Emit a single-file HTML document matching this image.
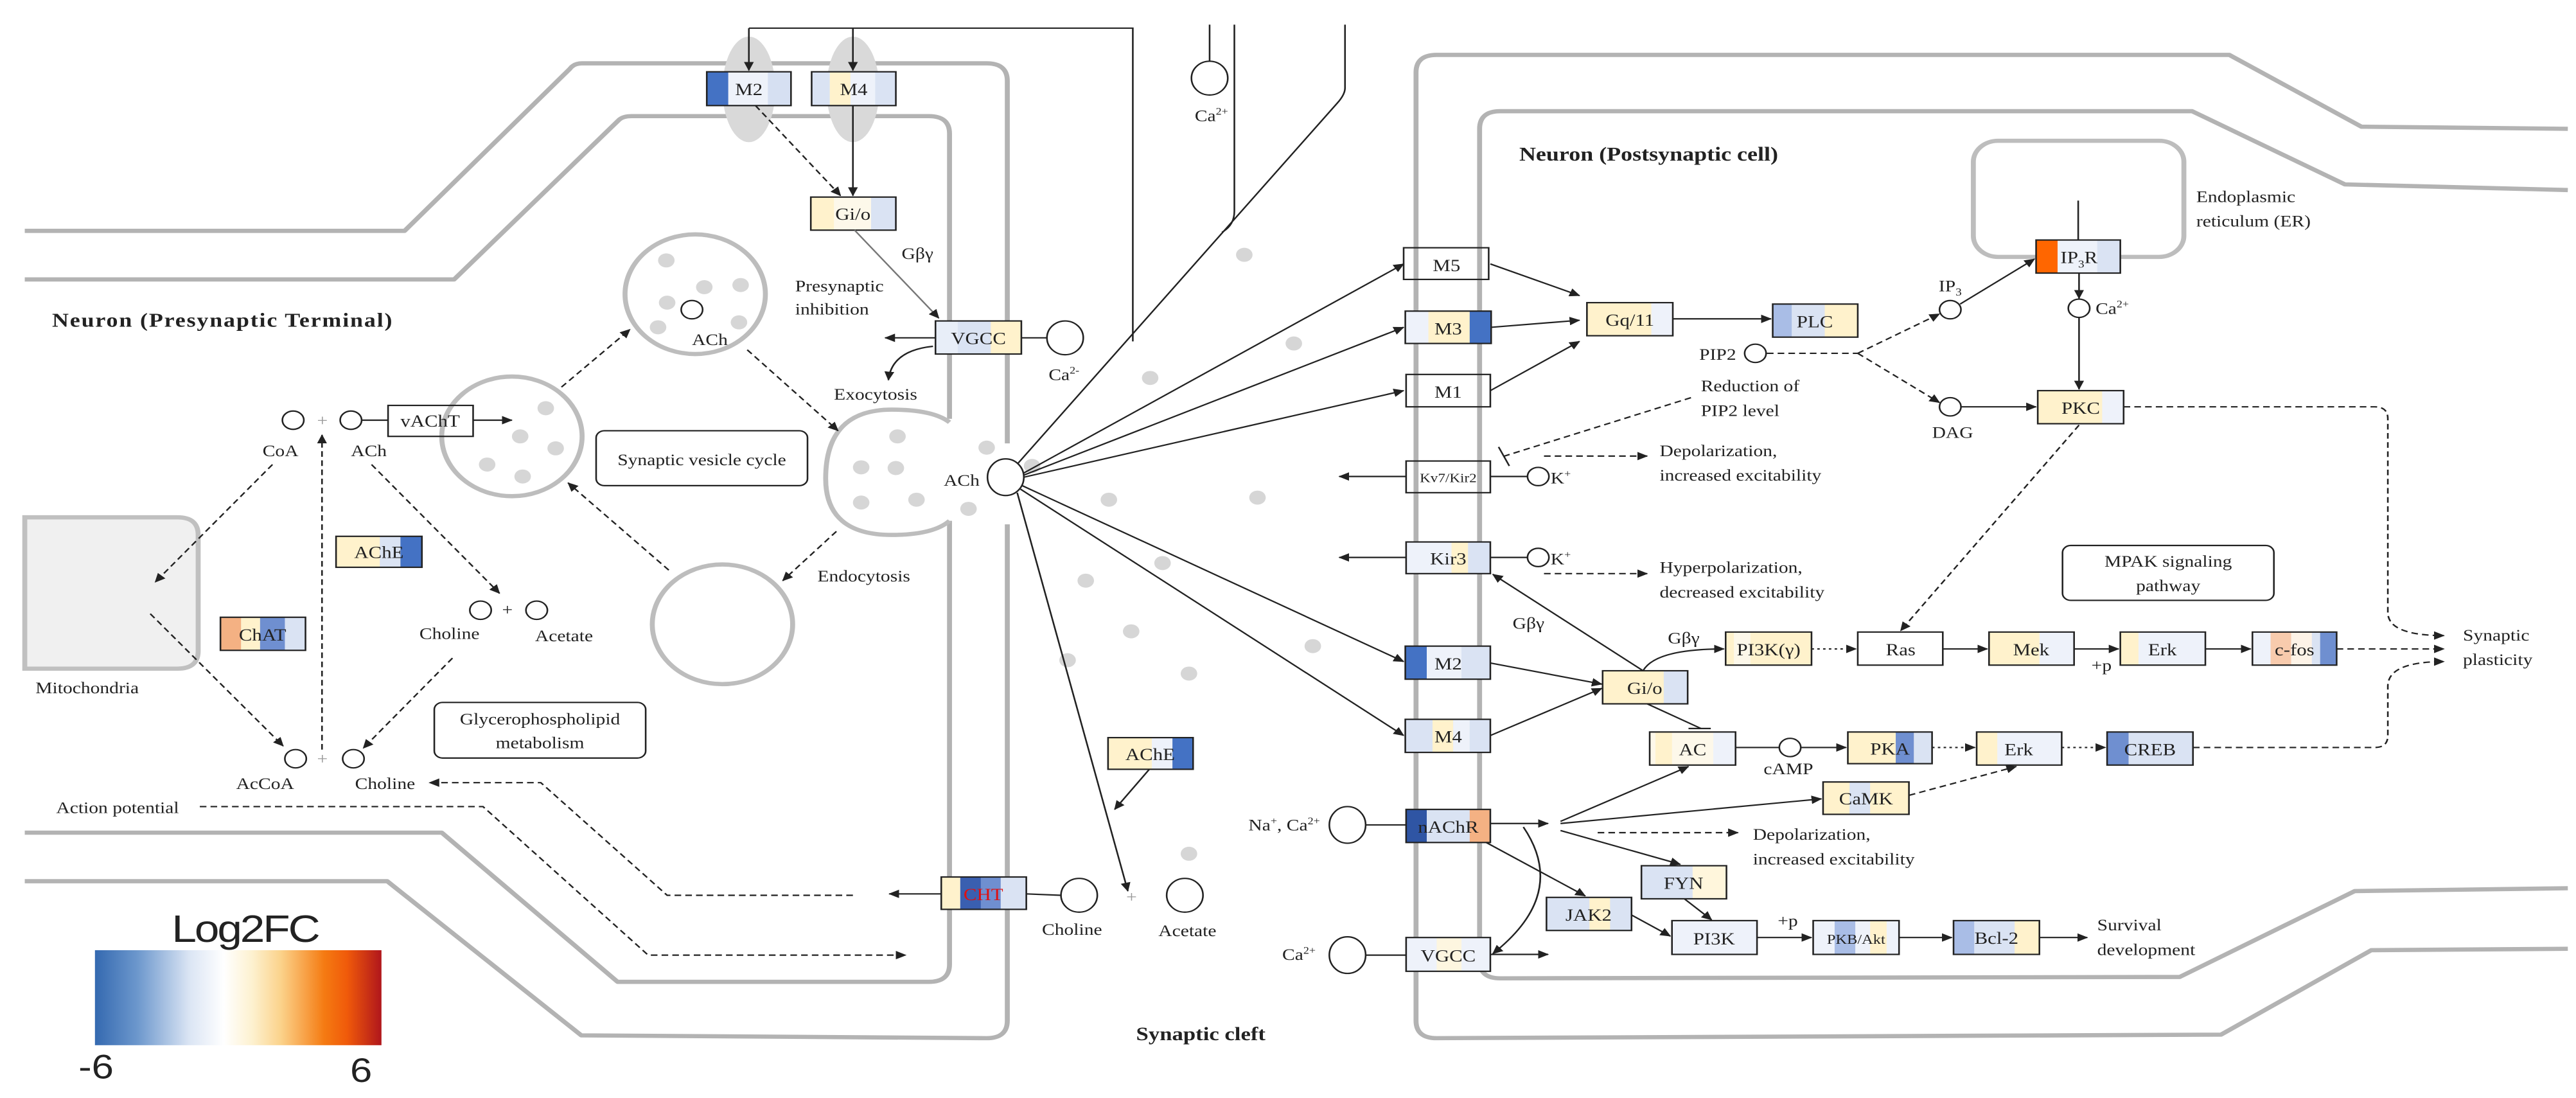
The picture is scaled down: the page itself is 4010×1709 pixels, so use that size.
<!DOCTYPE html>
<html><head><meta charset="utf-8"><style>
html,body{margin:0;padding:0;background:#fff;}
svg{display:block;}
text{font-family:"Liberation Serif",serif;fill:#222;}
.t{font-size:23px;}
.bx{font-size:24px;text-anchor:middle;}
.mem{fill:none;stroke:#b3b3b3;stroke-width:6;stroke-linejoin:round;}
.ln{fill:none;stroke:#222;stroke-width:2;}
.ds{fill:none;stroke:#222;stroke-width:2;stroke-dasharray:8 5;}
.dt{fill:none;stroke:#222;stroke-width:2;stroke-dasharray:3 4;}
.c{fill:#fff;stroke:#222;stroke-width:2;}
.ves{fill:#fff;stroke:#bdbdbd;stroke-width:6;}
.dot{fill:#d6d6d6;}
.br{fill:none;stroke:#222;stroke-width:2;}
</style></head><body>
<svg width="4010" height="1709" viewBox="0 0 4010 1709" xmlns="http://www.w3.org/2000/svg">
<defs>
<marker id="a" markerWidth="14" markerHeight="12" refX="12" refY="6" orient="auto" markerUnits="userSpaceOnUse"><path d="M0,0 L13,6 L0,12 z" fill="#222"/></marker>
<linearGradient id="lg" x1="0" x2="1" y1="0" y2="0">
<stop offset="0" stop-color="#3469b0"/><stop offset="0.15" stop-color="#6d98cd"/><stop offset="0.33" stop-color="#dbe5f4"/><stop offset="0.45" stop-color="#ffffff"/><stop offset="0.55" stop-color="#fdf1cf"/><stop offset="0.65" stop-color="#fbd28a"/><stop offset="0.8" stop-color="#f57b12"/><stop offset="0.88" stop-color="#f05a0a"/><stop offset="1" stop-color="#b0161c"/>
</linearGradient>
</defs>
<g transform="scale(1.2853,1.0955)">
<!-- presynaptic membranes -->
<path class="mem" d="M30,328 L490,328 L690,98 Q695,90 705,90 L1195,90 Q1220,90 1220,115 L1220,630"/>
<path class="mem" d="M1220,745 L1220,1450 Q1220,1475 1195,1475 L704,1471 L469,1252 L30,1252"/>
<path class="mem" d="M30,397 L550,397 L750,170 Q755,165 765,165 L1125,165 Q1150,165 1150,190 L1150,595"/>
<path class="mem" d="M1150,740 L1150,1370 Q1150,1395 1125,1395 L748,1395 L535,1183 L30,1183"/>
<path d="M30,735 L215,735 Q240,735 240,760 L240,925 Q240,950 215,950 L30,950 Z" fill="#f0f0f0" stroke="#c0c0c0" stroke-width="6"/>
<!-- vesicles -->
<circle class="ves" cx="842" cy="418" r="85"/>
<circle class="ves" cx="620" cy="620" r="85"/>
<circle class="ves" cx="875" cy="887" r="85"/>
<path class="ves" d="M1150,600 Q1130,582 1080,582 Q1000,582 1000,680 Q1000,760 1080,760 Q1130,760 1150,740"/>
<g class="dot">
<circle cx="807" cy="370" r="10"/><circle cx="853" cy="408" r="10"/><circle cx="897" cy="405" r="10"/><circle cx="808" cy="430" r="10"/><circle cx="797" cy="465" r="10"/><circle cx="895" cy="458" r="10"/>
<circle cx="661" cy="580" r="10"/><circle cx="630" cy="620" r="10"/><circle cx="673" cy="637" r="10"/><circle cx="590" cy="660" r="10"/><circle cx="633" cy="677" r="10"/>
<circle cx="1087" cy="620" r="10"/><circle cx="1043" cy="664" r="10"/><circle cx="1085" cy="665" r="10"/><circle cx="1043" cy="714" r="10"/><circle cx="1110" cy="710" r="10"/>
<circle cx="1195" cy="636" r="10"/><circle cx="1173" cy="723" r="10"/><circle cx="1507" cy="362" r="10"/><circle cx="1393" cy="537" r="10"/><circle cx="1343" cy="710" r="10"/><circle cx="1523" cy="707" r="10"/><circle cx="1408" cy="800" r="10"/><circle cx="1315" cy="825" r="10"/><circle cx="1370" cy="897" r="10"/><circle cx="1293" cy="938" r="10"/><circle cx="1440" cy="957" r="10"/><circle cx="1440" cy="1213" r="10"/><circle cx="1567" cy="488" r="10"/><circle cx="1590" cy="918" r="10"/><circle cx="1250" cy="662" r="10"/>
</g>
<ellipse cx="907" cy="127" rx="32" ry="75" fill="#d9d9d9"/>
<ellipse cx="1033" cy="127" rx="32" ry="75" fill="#d9d9d9"/>
<path class="ln" d="M1372,485 L1372,40 L907,40"/>
<path class="ln" d="M907,40 L907,100" marker-end="url(#a)"/>
<path class="ln" d="M1033,40 L1033,100" marker-end="url(#a)"/>
<path class="ln" d="M1465,35 L1465,88"/>
<ellipse class="c" cx="1465" cy="111" rx="22" ry="24"/>
<text class="t" x="1447" y="172">Ca<tspan font-size="14" dy="-9">2+</tspan></text>
<path class="ln" d="M1495,35 L1495,300 Q1495,320 1480,330"/>
<path class="ln" d="M1629,35 L1629,125 Q1629,134 1620,146 L1218,678"/>
<!-- boxes left -->
<g><rect x="856" y="102" width="102" height="48" fill="#eef2fa"/><rect x="856" y="102" width="26" height="48" fill="#4472c4"/><rect x="930" y="102" width="28" height="48" fill="#d6e0f2"/><rect class="br" x="856" y="102" width="102" height="48"/><text class="bx" x="907" y="135">M2</text></g>
<g><rect x="983" y="102" width="102" height="48" fill="#eef2fa"/><rect x="983" y="102" width="22" height="48" fill="#dae3f3"/><rect x="1005" y="102" width="25" height="48" fill="#fff2cc"/><rect x="1060" y="102" width="25" height="48" fill="#dae3f3"/><rect class="br" x="983" y="102" width="102" height="48"/><text class="bx" x="1034" y="135">M4</text></g>
<g><rect x="982" y="280" width="103" height="47" fill="#fdf8ea"/><rect x="982" y="280" width="28" height="47" fill="#fff2cc"/><rect x="1055" y="280" width="30" height="47" fill="#dae3f3"/><rect class="br" x="982" y="280" width="103" height="47"/><text class="bx" x="1033" y="312">Gi/o</text></g>
<g><rect x="1133" y="456" width="104" height="47" fill="#fff2cc"/><rect x="1133" y="456" width="27" height="47" fill="#e8eef8"/><rect x="1160" y="456" width="40" height="47" fill="#dae3f3"/><rect class="br" x="1133" y="456" width="104" height="47"/><text class="bx" x="1185" y="489">VGCC</text></g>
<g><rect x="470" y="576" width="103" height="44" fill="#fff" class="br"/><text class="bx" x="521" y="606">vAChT</text></g>
<g><rect x="407" y="762" width="104" height="44" fill="#fff2cc"/><rect x="460" y="762" width="25" height="44" fill="#dae3f3"/><rect x="485" y="762" width="26" height="44" fill="#4472c4"/><rect class="br" x="407" y="762" width="104" height="44"/><text class="bx" x="459" y="793">AChE</text></g>
<g><rect x="267" y="877" width="103" height="47" fill="#dae3f3"/><rect x="267" y="877" width="25" height="47" fill="#f4b183"/><rect x="292" y="877" width="23" height="47" fill="#fff2cc"/><rect x="315" y="877" width="30" height="47" fill="#6f8fd0"/><rect class="br" x="267" y="877" width="103" height="47"/><text class="bx" x="318" y="910">ChAT</text></g>
<g><rect x="1342" y="1048" width="103" height="45" fill="#fff2cc"/><rect x="1395" y="1048" width="25" height="45" fill="#eef2fa"/><rect x="1420" y="1048" width="25" height="45" fill="#4472c4"/><rect class="br" x="1342" y="1048" width="103" height="45"/><text class="bx" x="1393" y="1080">AChE</text></g>
<g><rect x="1140" y="1246" width="103" height="46" fill="#dae3f3"/><rect x="1140" y="1246" width="23" height="46" fill="#fff2cc"/><rect x="1163" y="1246" width="25" height="46" fill="#3a5fb0"/><rect x="1188" y="1246" width="24" height="46" fill="#6f8fd0"/><rect class="br" x="1140" y="1246" width="103" height="46"/><text class="bx" x="1191" y="1279" style="fill:#e01010">CHT</text></g>
<!-- left connectors -->
<path class="ds" d="M915,150 L1018,278" marker-end="url(#a)"/>
<path class="ln" d="M1033,150 L1033,278" marker-end="url(#a)"/>
<path d="M1035,327 L1137,452" fill="none" stroke="#777" stroke-width="2" marker-end="url(#a)"/>
<text class="t" x="1092" y="368">Gβγ</text>
<text class="t" x="963" y="414">Presynaptic</text>
<text class="t" x="963" y="447">inhibition</text>
<path class="ln" d="M1133,480 L1072,480" marker-end="url(#a)"/>
<path class="ln" d="M1130,492 Q1080,498 1076,540" marker-end="url(#a)"/>
<text class="t" x="1010" y="568">Exocytosis</text>
<path class="ln" d="M1237,480 L1268,480"/>
<ellipse class="c" cx="1290" cy="480" rx="22" ry="24"/>
<text class="t" x="1270" y="540">Ca<tspan font-size="14" dy="-9">2-</tspan></text>
<path class="ds" d="M680,550 L763,468" marker-end="url(#a)"/>
<path class="ds" d="M905,497 L1015,612" marker-end="url(#a)"/>
<path class="ds" d="M1013,755 L948,825" marker-end="url(#a)"/>
<path class="ds" d="M810,810 L688,686" marker-end="url(#a)"/>
<text class="t" x="990" y="826">Endocytosis</text>
<circle class="c" cx="838" cy="440" r="13"/><text class="t" x="838" y="490">ACh</text>
<circle class="c" cx="355" cy="597" r="13"/><text class="t" x="384" y="605" style="fill:#999">+</text><circle class="c" cx="425" cy="597" r="13"/>
<path class="ln" d="M438,597 L470,597"/><path class="ln" d="M573,597 L620,597" marker-end="url(#a)"/>
<text class="t" x="318" y="648">CoA</text><text class="t" x="425" y="648">ACh</text>
<path class="ds" d="M330,660 L188,827" marker-end="url(#a)"/>
<path class="ds" d="M182,872 L343,1060" marker-end="url(#a)"/>
<path class="ds" d="M390,1065 L390,618" marker-end="url(#a)"/>
<path class="ds" d="M450,660 L605,843" marker-end="url(#a)"/>
<circle class="c" cx="582" cy="867" r="13"/><text class="t" x="608" y="874">+</text><circle class="c" cx="650" cy="867" r="13"/>
<text class="t" x="508" y="908">Choline</text><text class="t" x="648" y="911">Acetate</text>
<path class="ds" d="M548,935 L440,1063" marker-end="url(#a)"/>
<circle class="c" cx="358" cy="1078" r="13"/><text class="t" x="384" y="1086" style="fill:#999">+</text><circle class="c" cx="428" cy="1078" r="13"/>
<text class="t" x="286" y="1121">AcCoA</text><text class="t" x="430" y="1121">Choline</text>
<rect x="722" y="612" width="256" height="78" rx="10" fill="#fff" stroke="#222" stroke-width="2"/>
<text class="t" x="850" y="661" text-anchor="middle">Synaptic vesicle cycle</text>
<rect x="526" y="998" width="256" height="79" rx="10" fill="#fff" stroke="#222" stroke-width="2"/>
<text class="t" x="654" y="1029" text-anchor="middle">Glycerophospholipid</text>
<text class="t" x="654" y="1063" text-anchor="middle">metabolism</text>
<text class="t" x="68" y="1155">Action potential</text>
<path class="ds" d="M242,1146 L585,1146 L785,1357 L1097,1357" marker-end="url(#a)"/>
<path class="ds" d="M1033,1272 L808,1272 L655,1112 L520,1112" marker-end="url(#a)"/>
<path class="ln" d="M1140,1270 L1077,1270" marker-end="url(#a)"/>
<path class="ln" d="M1243,1270 L1285,1272"/>
<ellipse class="c" cx="1307" cy="1272" rx="22" ry="24"/><text class="t" x="1262" y="1328">Choline</text>
<text class="t" x="1364" y="1282" style="fill:#999">+</text>
<ellipse class="c" cx="1435" cy="1272" rx="22" ry="24"/><text class="t" x="1403" y="1330">Acetate</text>
<path class="ln" d="M1392,1093 L1350,1150" marker-end="url(#a)"/>
<text x="63" y="464" style="font-size:28px;font-weight:bold" textLength="412">Neuron (Presynaptic Terminal)</text>
<text class="t" x="43" y="985">Mitochondria</text>
<text x="1376" y="1478" style="font-size:27px;font-weight:bold">Synaptic cleft</text>
<!-- legend -->
<text x="208" y="1338" style="font-family:'Liberation Sans',sans-serif;font-size:54px" textLength="180">Log2FC</text>
<rect x="115" y="1350" width="347" height="135" fill="url(#lg)"/>
<text x="95" y="1532" style="font-family:'Liberation Sans',sans-serif;font-size:48px">-6</text>
<text x="424" y="1537" style="font-family:'Liberation Sans',sans-serif;font-size:48px">6</text>

<!-- postsynaptic membranes -->
<path class="mem" d="M3110,183 L2860,180 L2700,78 L1740,78 Q1715,78 1715,103 L1715,1450 Q1715,1475 1740,1475 L2690,1470 L2872,1350 L3110,1348"/>
<path class="mem" d="M3110,270 L2840,262 L2655,158 L1817,158 Q1792,158 1792,183 L1792,1365 Q1792,1390 1817,1390 L2640,1388 L2852,1266 L3110,1262"/>
<rect x="2390" y="200" width="255" height="165" rx="30" fill="none" stroke="#bdbdbd" stroke-width="6"/>
<text x="1840" y="228" style="font-size:28px;font-weight:bold">Neuron (Postsynaptic cell)</text>
<text class="t" x="2660" y="287">Endoplasmic</text><text class="t" x="2660" y="322">reticulum (ER)</text>
<ellipse class="c" cx="1218" cy="678" rx="22" ry="26"/>
<text class="t" x="1143" y="690">ACh</text>
<path class="ln" d="M1240,672 L1700,375" marker-end="url(#a)"/>
<path class="ln" d="M1240,675 L1700,465" marker-end="url(#a)"/>
<path class="ln" d="M1240,678 L1700,555" marker-end="url(#a)"/>
<path class="ln" d="M1238,690 L1700,940" marker-end="url(#a)"/>
<path class="ln" d="M1236,695 L1700,1045" marker-end="url(#a)"/>
<path class="ln" d="M1232,700 L1366,1266" marker-end="url(#a)"/>
<!-- right boxes -->
<g><rect class="br" x="1700" y="352" width="103" height="45" fill="#fff"/><text class="bx" x="1752" y="385">M5</text></g>
<g><rect x="1702" y="442" width="104" height="46" fill="#fff2cc"/><rect x="1702" y="442" width="28" height="46" fill="#eef2fa"/><rect x="1780" y="442" width="26" height="46" fill="#4472c4"/><rect class="br" x="1702" y="442" width="104" height="46"/><text class="bx" x="1754" y="475">M3</text></g>
<g><rect class="br" x="1703" y="532" width="102" height="46" fill="#fff"/><text class="bx" x="1754" y="565">M1</text></g>
<g><rect class="br" x="1703" y="655" width="102" height="45" fill="#fff"/><text class="bx" x="1754" y="685" style="font-size:18px">Kv7/Kir2</text></g>
<g><rect x="1703" y="770" width="102" height="45" fill="#eef2fa"/><rect x="1758" y="770" width="20" height="45" fill="#fff2cc"/><rect x="1778" y="770" width="27" height="45" fill="#dae3f3"/><rect class="br" x="1703" y="770" width="102" height="45"/><text class="bx" x="1754" y="802">Kir3</text></g>
<g><rect x="1702" y="918" width="103" height="47" fill="#eef2fa"/><rect x="1702" y="918" width="26" height="47" fill="#4472c4"/><rect x="1770" y="918" width="35" height="47" fill="#dae3f3"/><rect class="br" x="1702" y="918" width="103" height="47"/><text class="bx" x="1754" y="951">M2</text></g>
<g><rect x="1702" y="1022" width="103" height="47" fill="#dae3f3"/><rect x="1735" y="1022" width="25" height="47" fill="#fff2cc"/><rect x="1760" y="1022" width="20" height="47" fill="#eef2fa"/><rect class="br" x="1702" y="1022" width="103" height="47"/><text class="bx" x="1754" y="1055">M4</text></g>
<g><rect x="1703" y="1150" width="102" height="47" fill="#dae3f3"/><rect x="1703" y="1150" width="25" height="47" fill="#2f55a4"/><rect x="1780" y="1150" width="25" height="47" fill="#f4b183"/><rect class="br" x="1703" y="1150" width="102" height="47"/><text class="bx" x="1754" y="1183">nAChR</text></g>
<g><rect x="1703" y="1332" width="102" height="48" fill="#eef2fa"/><rect x="1740" y="1332" width="30" height="48" fill="#fdf6e0"/><rect class="br" x="1703" y="1332" width="102" height="48"/><text class="bx" x="1754" y="1366">VGCC</text></g>
<g><rect x="1922" y="430" width="104" height="47" fill="#fff2cc"/><rect x="2000" y="430" width="26" height="47" fill="#eef2fa"/><rect class="br" x="1922" y="430" width="104" height="47"/><text class="bx" x="1974" y="463">Gq/11</text></g>
<g><rect x="2147" y="432" width="103" height="47" fill="#dae3f3"/><rect x="2147" y="432" width="23" height="47" fill="#a9bde6"/><rect x="2210" y="432" width="40" height="47" fill="#fff2cc"/><rect class="br" x="2147" y="432" width="103" height="47"/><text class="bx" x="2198" y="465">PLC</text></g>
<g><rect x="2466" y="341" width="102" height="47" fill="#eef2fa"/><rect x="2466" y="341" width="26" height="47" fill="#ff6600"/><rect x="2540" y="341" width="28" height="47" fill="#dae3f3"/><rect class="br" x="2466" y="341" width="102" height="47"/><text class="bx" x="2518" y="374">IP<tspan font-size="15" dy="6">3</tspan><tspan dy="-6">R</tspan></text></g>
<g><rect x="2468" y="555" width="104" height="47" fill="#fff2cc"/><rect x="2546" y="555" width="26" height="47" fill="#eef2fa"/><rect class="br" x="2468" y="555" width="104" height="47"/><text class="bx" x="2520" y="588">PKC</text></g>
<g><rect x="2090" y="898" width="104" height="47" fill="#fff2cc"/><rect x="2100" y="898" width="20" height="47" fill="#fdf8ea"/><rect class="br" x="2090" y="898" width="104" height="47"/><text class="bx" x="2142" y="931">PI3K(γ)</text></g>
<g><rect class="br" x="2250" y="898" width="103" height="47" fill="#fff"/><text class="bx" x="2302" y="931">Ras</text></g>
<g><rect x="2409" y="898" width="103" height="47" fill="#fff2cc"/><rect x="2470" y="898" width="42" height="47" fill="#eef2fa"/><rect class="br" x="2409" y="898" width="103" height="47"/><text class="bx" x="2460" y="931">Mek</text></g>
<g><rect x="2568" y="898" width="103" height="47" fill="#eef2fa"/><rect x="2568" y="898" width="22" height="47" fill="#fff2cc"/><rect class="br" x="2568" y="898" width="103" height="47"/><text class="bx" x="2619" y="931">Erk</text></g>
<g><rect x="2728" y="898" width="102" height="47" fill="#eef2fa"/><rect x="2750" y="898" width="25" height="47" fill="#f8cbad"/><rect x="2775" y="898" width="25" height="47" fill="#fdf3e7"/><rect x="2800" y="898" width="10" height="47" fill="#dae3f3"/><rect x="2810" y="898" width="20" height="47" fill="#6f8fd0"/><rect class="br" x="2728" y="898" width="102" height="47"/><text class="bx" x="2779" y="931">c-fos</text></g>
<g><rect x="1941" y="953" width="103" height="47" fill="#fff2cc"/><rect x="2015" y="953" width="29" height="47" fill="#dae3f3"/><rect class="br" x="1941" y="953" width="103" height="47"/><text class="bx" x="1992" y="986">Gi/o</text></g>
<g><rect x="1998" y="1040" width="104" height="47" fill="#fdf8ea"/><rect x="2005" y="1040" width="20" height="47" fill="#fff2cc"/><rect x="2075" y="1040" width="27" height="47" fill="#eef2fa"/><rect class="br" x="1998" y="1040" width="104" height="47"/><text class="bx" x="2050" y="1073">AC</text></g>
<g><rect x="2238" y="1040" width="102" height="45" fill="#fff2cc"/><rect x="2296" y="1040" width="22" height="45" fill="#6f8fd0"/><rect x="2318" y="1040" width="22" height="45" fill="#dae3f3"/><rect class="br" x="2238" y="1040" width="102" height="45"/><text class="bx" x="2289" y="1072">PKA</text></g>
<g><rect x="2394" y="1040" width="103" height="47" fill="#eef2fa"/><rect x="2394" y="1040" width="25" height="47" fill="#fff2cc"/><rect class="br" x="2394" y="1040" width="103" height="47"/><text class="bx" x="2445" y="1073">Erk</text></g>
<g><rect x="2552" y="1040" width="104" height="47" fill="#dae3f3"/><rect x="2552" y="1040" width="26" height="47" fill="#6f8fd0"/><rect class="br" x="2552" y="1040" width="104" height="47"/><text class="bx" x="2604" y="1073">CREB</text></g>
<g><rect x="2208" y="1111" width="104" height="46" fill="#fff2cc"/><rect x="2240" y="1111" width="25" height="46" fill="#dae3f3"/><rect class="br" x="2208" y="1111" width="104" height="46"/><text class="bx" x="2260" y="1143">CaMK</text></g>
<g><rect x="1988" y="1230" width="103" height="47" fill="#dae3f3"/><rect x="2050" y="1230" width="41" height="47" fill="#fff6dc"/><rect class="br" x="1988" y="1230" width="103" height="47"/><text class="bx" x="2039" y="1263">FYN</text></g>
<g><rect x="1873" y="1275" width="103" height="47" fill="#dae3f3"/><rect x="1925" y="1275" width="25" height="47" fill="#fff2cc"/><rect class="br" x="1873" y="1275" width="103" height="47"/><text class="bx" x="1924" y="1308">JAK2</text></g>
<g><rect x="2025" y="1308" width="103" height="48" fill="#eef2fa"/><rect class="br" x="2025" y="1308" width="103" height="48"/><text class="bx" x="2076" y="1342">PI3K</text></g>
<g><rect x="2196" y="1308" width="104" height="48" fill="#eef2fa"/><rect x="2222" y="1308" width="25" height="48" fill="#a9bde6"/><rect x="2265" y="1308" width="20" height="48" fill="#fff2cc"/><rect class="br" x="2196" y="1308" width="104" height="48"/><text class="bx" x="2248" y="1341" style="font-size:19px">PKB/Akt</text></g>
<g><rect x="2366" y="1308" width="104" height="48" fill="#dae3f3"/><rect x="2366" y="1308" width="25" height="48" fill="#a9bde6"/><rect x="2440" y="1308" width="30" height="48" fill="#fff2cc"/><rect class="br" x="2366" y="1308" width="104" height="48"/><text class="bx" x="2418" y="1341">Bcl-2</text></g>
<!-- right connectors -->
<path class="ln" d="M1805,375 L1913,420" marker-end="url(#a)"/>
<path class="ln" d="M1806,465 L1913,455" marker-end="url(#a)"/>
<path class="ln" d="M1805,555 L1913,485" marker-end="url(#a)"/>
<path class="ln" d="M2026,453 L2145,453" marker-end="url(#a)"/>
<circle class="c" cx="2126" cy="502" r="13"/><text class="t" x="2058" y="511">PIP2</text>
<path class="ds" d="M2140,502 L2250,502"/>
<path class="ds" d="M2250,502 L2349,446" marker-end="url(#a)"/>
<path class="ds" d="M2250,502 L2349,572" marker-end="url(#a)"/>
<circle class="c" cx="2362" cy="440" r="13"/><text class="t" x="2348" y="414">IP<tspan font-size="15" dy="6">3</tspan></text>
<circle class="c" cx="2362" cy="578" r="13"/><text class="t" x="2340" y="622">DAG</text>
<path class="ln" d="M2374,432 L2464,368" marker-end="url(#a)"/>
<path class="ln" d="M2375,578 L2466,578" marker-end="url(#a)"/>
<path class="ln" d="M2517,285 L2517,341"/>
<path class="ln" d="M2518,388 L2518,424" marker-end="url(#a)"/>
<circle class="c" cx="2518" cy="438" r="13"/><text class="t" x="2538" y="446">Ca<tspan font-size="14" dy="-9">2+</tspan></text>
<path class="ln" d="M2518,451 L2518,553" marker-end="url(#a)"/>
<path class="ds" d="M2518,604 L2302,896" marker-end="url(#a)"/>
<path class="ds" d="M2572,578 L2876,578 Q2892,578 2892,595 L2892,870 Q2892,903 2960,903" marker-end="url(#a)"/>
<path class="ds" d="M2656,1062 L2876,1062 Q2892,1062 2892,1045 L2892,975 Q2892,940 2960,940" marker-end="url(#a)"/>
<path class="ds" d="M2830,922 L2960,922" marker-end="url(#a)"/>
<text class="t" x="2983" y="910">Synaptic</text><text class="t" x="2983" y="945">plasticity</text>
<path class="ds" d="M2048,565 L1822,648"/><path class="ln" d="M1815,635 L1828,662"/>
<text class="t" x="2060" y="556">Reduction of</text><text class="t" x="2060" y="591">PIP2 level</text>
<path class="ln" d="M1703,677 L1622,677" marker-end="url(#a)"/>
<path class="ln" d="M1805,677 L1850,677"/><circle class="c" cx="1863" cy="677" r="13"/><text class="t" x="1878" y="687">K<tspan font-size="14" dy="-9">+</tspan></text>
<path class="ds" d="M1870,648 L1995,648" marker-end="url(#a)"/>
<text class="t" x="2010" y="648">Depolarization,</text><text class="t" x="2010" y="683">increased excitability</text>
<path class="ln" d="M1703,792 L1622,792" marker-end="url(#a)"/>
<path class="ln" d="M1805,792 L1850,792"/><circle class="c" cx="1863" cy="792" r="13"/><text class="t" x="1878" y="802">K<tspan font-size="14" dy="-9">+</tspan></text>
<path class="ds" d="M1870,815 L1995,815" marker-end="url(#a)"/>
<text class="t" x="2010" y="814">Hyperpolarization,</text><text class="t" x="2010" y="849">decreased excitability</text>
<path class="ln" d="M1805,942 L1940,972" marker-end="url(#a)"/>
<path class="ln" d="M1805,1045 L1940,978" marker-end="url(#a)"/>
<path class="ln" d="M1990,953 L1808,816" marker-end="url(#a)"/>
<text class="t" x="1832" y="893">Gβγ</text>
<path class="ln" d="M1990,953 Q2005,922 2088,922" marker-end="url(#a)"/>
<text class="t" x="2020" y="914">Gβγ</text>
<path class="ln" d="M1995,1000 L2060,1035"/><path class="ln" d="M2045,1035 L2072,1035"/>
<path class="dt" d="M2194,922 L2248,922" marker-end="url(#a)"/>
<path class="ln" d="M2353,922 L2407,922" marker-end="url(#a)"/>
<path class="ln" d="M2512,922 L2566,922" marker-end="url(#a)"/>
<text class="t" x="2533" y="953">+p</text>
<path class="ln" d="M2671,922 L2726,922" marker-end="url(#a)"/>
<path class="ln" d="M2102,1062 L2155,1062"/><circle class="c" cx="2168" cy="1062" r="13"/>
<text class="t" x="2136" y="1100">cAMP</text>
<path class="ln" d="M2181,1062 L2236,1062" marker-end="url(#a)"/>
<path class="dt" d="M2340,1062 L2392,1062" marker-end="url(#a)"/>
<path class="dt" d="M2497,1062 L2550,1062" marker-end="url(#a)"/>
<path class="ds" d="M2312,1130 L2442,1089" marker-end="url(#a)"/>
<path class="ln" d="M1805,1170 L1875,1170" marker-end="url(#a)"/>
<path class="ln" d="M1890,1167 L2045,1089" marker-end="url(#a)"/>
<path class="ln" d="M1890,1170 L2206,1135" marker-end="url(#a)"/>
<path class="ln" d="M1890,1180 L2035,1228" marker-end="url(#a)"/>
<path class="ds" d="M1935,1183 L2105,1183" marker-end="url(#a)"/>
<text class="t" x="2123" y="1193">Depolarization,</text><text class="t" x="2123" y="1228">increased excitability</text>
<path class="ln" d="M1800,1197 L1920,1273" marker-end="url(#a)"/>
<path class="ln" d="M1845,1175 Q1900,1270 1808,1355" marker-end="url(#a)"/>
<path class="ln" d="M1805,1356 L1875,1356" marker-end="url(#a)"/>
<path class="ln" d="M1976,1300 L2023,1330" marker-end="url(#a)"/>
<path class="ln" d="M2040,1277 L2073,1307" marker-end="url(#a)"/>
<path class="ln" d="M2128,1332 L2194,1332" marker-end="url(#a)"/>
<text class="t" x="2153" y="1316">+p</text>
<path class="ln" d="M2300,1332 L2364,1332" marker-end="url(#a)"/>
<path class="ln" d="M2470,1332 L2528,1332" marker-end="url(#a)"/>
<text class="t" x="2540" y="1322">Survival</text><text class="t" x="2540" y="1357">development</text>
<ellipse class="c" cx="1632" cy="1172" rx="22" ry="26"/>
<path class="ln" d="M1654,1172 L1703,1172"/>
<text class="t" x="1512" y="1180">Na<tspan font-size="14" dy="-9">+</tspan><tspan dy="9">, Ca</tspan><tspan font-size="14" dy="-9">2+</tspan></text>
<ellipse class="c" cx="1632" cy="1357" rx="22" ry="26"/>
<path class="ln" d="M1654,1357 L1703,1357"/>
<text class="t" x="1553" y="1364">Ca<tspan font-size="14" dy="-9">2+</tspan></text>
<rect x="2498" y="775" width="256" height="78" rx="10" fill="#fff" stroke="#222" stroke-width="2"/>
<text class="t" x="2626" y="805" text-anchor="middle">MPAK signaling</text>
<text class="t" x="2626" y="840" text-anchor="middle">pathway</text>
</g>
</svg>
</body></html>
